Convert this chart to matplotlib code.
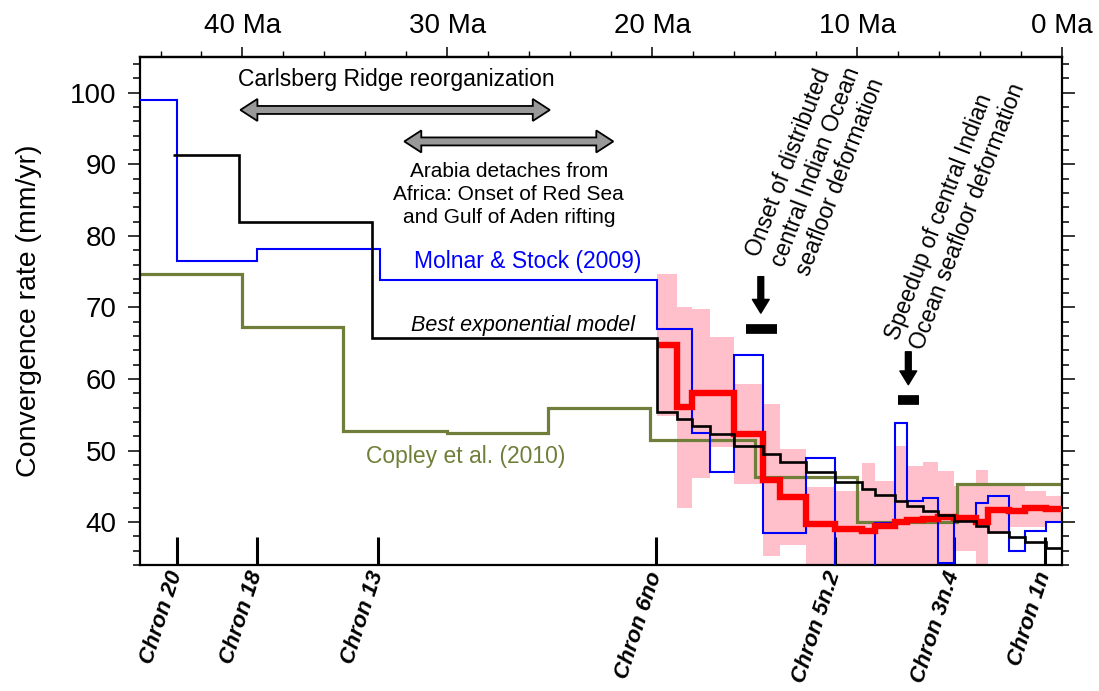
import matplotlib
matplotlib.use("Agg")
import matplotlib.pyplot as plt
from matplotlib import ticker, transforms
from matplotlib.patches import Polygon

plt.rcParams["font.family"] = ["Liberation Sans", "DejaVu Sans"]

# ages in Ma (young -> old), rates in mm/yr
edges = [0, 0.8, 1.8, 2.6, 3.6, 4.2, 5.25, 6.05, 6.8, 7.55, 8.15, 9.15, 9.75,
         11.1, 12.5, 13.75, 14.6, 16.0, 17.2, 18.05, 18.8, 19.75]
red_rate = [41.8, 42.0, 41.5, 41.7, 40.0, 40.6, 40.7, 40.4, 40.3, 40.0, 39.4,
            38.8, 39.0, 39.7, 43.5, 45.9, 52.3, 58.0, 58.1, 56.1, 64.8]
band_lo = [40.2, 39.3, 39.3, 38.4, 30, 36.0, 30, 30, 30, 30, 30,
           30, 30, 30, 36.8, 35.2, 45.3, 50.5, 46.2, 42.0, 54.8]
band_hi = [43.7, 44.3, 45.0, 45.0, 47.3, 45.0, 47.1, 48.4, 47.8, 50.6, 45.7,
           48.3, 44.4, 44.9, 50.2, 56.5, 59.3, 65.9, 69.8, 70.1, 74.7]

black_edges = edges + [33.7, 40.15, 43.4]
black_rate = [36.4, 37.2, 37.9, 38.6, 39.4, 40.1, 41.0, 41.5, 42.2, 42.9, 43.8,
              44.6, 45.6, 47.0, 48.4, 49.5, 50.6, 52.3, 53.4, 54.4, 55.4,
              65.7, 82.0, 91.3]

blue_edges = [0, 0.8, 1.8, 2.6, 3.6, 4.2, 5.25, 6.05, 6.8, 7.55, 8.15, 9.15,
              11.1, 12.5, 14.6, 16.0, 17.2, 18.05, 19.75, 33.3, 39.3, 43.2, 46]
blue_rate = [40.0, 38.8, 35.9, 43.6, 42.6, 40.4, 34.3, 43.4, 42.9, 53.8, 39.9,
             33.0, 49.0, 38.5, 63.4, 47.0, 52.4, 67.0, 73.9, 78.2, 76.5, 99.0]

olive_edges = [0, 5.1, 10.0, 15.0, 20.1, 25.1, 30.0, 35.1, 40.0, 46]
olive_rate = [45.3, 40.0, 46.3, 51.5, 55.9, 52.4, 52.7, 67.3, 74.7]

chron_age = [43.2, 39.3, 33.4, 19.8, 11.07, 5.27, 0.83]
chron_lab = ["Chron 20", "Chron 18", "Chron 13", "Chron 6no", "Chron 5n.2",
             "Chron 3n.4", "Chron 1n"]
top_age = [40, 30, 20, 10, 0]

OLIVE = "#6f7f3a"

fig = plt.figure(figsize=(10.99, 6.91), dpi=100)
ax = fig.add_axes([0.1274, 0.1823, 0.8389, 0.7352])
ax.set_xlim(45, 0)
ax.set_ylim(34, 105)

ax.stairs(band_hi, edges, baseline=band_lo, fill=True, color="pink", lw=0, zorder=1)
ax.stairs(olive_rate, olive_edges, baseline=None, color=OLIVE, lw=2.3, zorder=2)
ax.stairs(blue_rate, blue_edges, baseline=None, color="#0000ff", lw=1.5, zorder=3)
ax.stairs(red_rate, edges, baseline=None, color="#ff0000", lw=4.6, zorder=4)
ax.stairs(black_rate, black_edges, baseline=None, color="black", lw=1.9, zorder=5)

for s in ax.spines.values():
    s.set_linewidth(1.6)

# bottom: chron ticks
ax.set_xticks(chron_age)
ax.set_xticklabels(chron_lab, rotation=72, ha="right", va="center",
                   rotation_mode="anchor", fontsize=16,
                   fontweight="bold", fontstyle="italic")
ax.tick_params(axis="x", which="major", direction="in", length=20, width=2.2,
               pad=5, zorder=6)
ax.xaxis.set_minor_locator(ticker.NullLocator())

# left / right
ax.yaxis.set_major_locator(ticker.MultipleLocator(10))
ax.yaxis.set_minor_locator(ticker.MultipleLocator(2))
ax.tick_params(axis="y", which="both", direction="out", right=True, width=1.1)
ax.tick_params(axis="y", which="major", length=9, labelsize=20, pad=8)
ax.tick_params(axis="y", which="minor", length=5)
ax.set_yticks([40, 50, 60, 70, 80, 90, 100])
ax.set_ylabel("Convergence rate (mm/yr)", fontsize=20.5, labelpad=20)

# top age axis
top = ax.secondary_xaxis("top")
top.set_xticks(top_age, [f"{a} Ma" for a in top_age])
top.xaxis.set_minor_locator(ticker.MultipleLocator(2))
top.tick_params(which="major", direction="out", length=7, width=1.1, pad=6,
                labelsize=20)
top.tick_params(which="minor", direction="out", length=4, width=1.0)
top.spines["top"].set_linewidth(1.6)


def double_arrow(a0, a1, y, hl=17, hw=11, sw=4):
    p0 = ax.transData.transform((a0, y))
    p1 = ax.transData.transform((a1, y))
    x0, x1 = sorted([p0[0], p1[0]])
    yp = p0[1]
    pts = [(x0, yp), (x0 + hl, yp + hw), (x0 + hl, yp + sw), (x1 - hl, yp + sw),
           (x1 - hl, yp + hw), (x1, yp), (x1 - hl, yp - hw), (x1 - hl, yp - sw),
           (x0 + hl, yp - sw), (x0 + hl, yp - hw)]
    ax.add_patch(Polygon(pts, closed=True, fc="#999999", ec="black", lw=1.3,
                         transform=transforms.IdentityTransform(), zorder=6))


double_arrow(40.1, 25.0, 97.6)
double_arrow(32.1, 21.9, 93.2)

ax.text(32.5, 101.9, "Carlsberg Ridge reorganization", ha="center",
        va="center", fontsize=16.5)
ax.text(27.0, 90.3, "Arabia detaches from\nAfrica: Onset of Red Sea\nand Gulf of Aden rifting",
        ha="center", va="top", fontsize=15, linespacing=1.25)
ax.text(26.1, 76.4, "Molnar & Stock (2009)", ha="center", va="center",
        fontsize=16.5, color="#0000ff")
ax.text(26.3, 67.5, "Best exponential model", ha="center", va="center",
        fontsize=15.5, fontstyle="italic")
ax.text(29.1, 49.1, "Copley et al. (2010)", ha="center", va="center",
        fontsize=16.5, color=OLIVE)

ax.text(12.0, 89.7, "Onset of distributed\ncentral Indian Ocean\nseafloor deformation",
        rotation=69, ha="center", va="center", multialignment="left",
        fontsize=16.5, rotation_mode="anchor")
ax.text(5.2, 83.4, "Speedup of central Indian\nOcean seafloor deformation",
        rotation=69, ha="center", va="center", multialignment="left",
        fontsize=16.5, rotation_mode="anchor")

arrow = dict(arrowstyle="simple,head_length=0.9,head_width=1.1,tail_width=0.38",
             fc="black", ec="black", mutation_scale=11, shrinkA=0, shrinkB=0)
ax.annotate("", xy=(14.7, 69.2), xytext=(14.7, 74.3), arrowprops=arrow)
ax.annotate("", xy=(7.5, 59.2), xytext=(7.5, 63.8), arrowprops=arrow)
ax.plot([15.4, 13.9], [67.0, 67.0], color="black", lw=7, solid_capstyle="butt")
ax.plot([8.0, 7.0], [57.0, 57.0], color="black", lw=7, solid_capstyle="butt")

fig.savefig("out.png", dpi=100)
